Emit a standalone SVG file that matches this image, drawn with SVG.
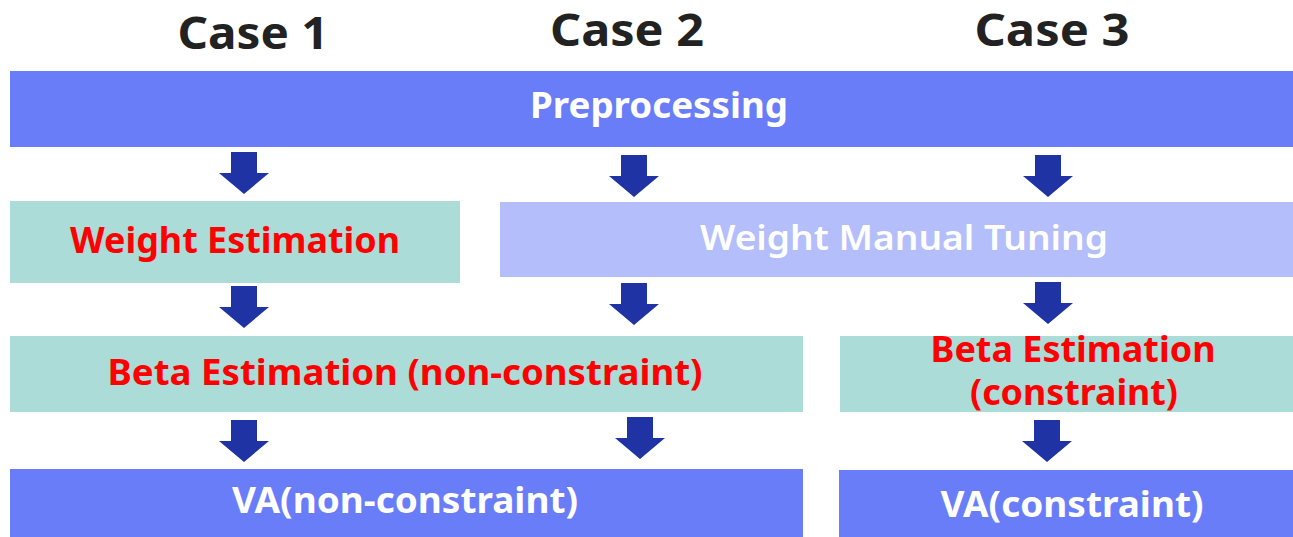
<svg xmlns="http://www.w3.org/2000/svg" width="1293" height="537" viewBox="0 0 1293 537">
<defs>
<style>
.t{font-family:"Noto Sans","Noto Sans CJK JP",sans-serif;font-weight:bold;text-anchor:middle}
.case{font-size:45px;fill:#222}
.lbl{font-size:35px}
.w{fill:#ffffff}
.r{fill:#ff0000}
.blue{fill:#6a7df9}
.light{fill:#b4befa}
.teal{fill:#acdcd8}
.arr{fill:#1f33a5}
</style>
<path id="ar" d="M-13,0 H13 V21 H25 L0,42 L-25,21 H-13 Z"/>
</defs>
<rect width="1293" height="537" fill="#ffffff"/>
<g id="titles">
<text class="t case" x="253" y="49" textLength="151" lengthAdjust="spacingAndGlyphs">Case 1</text>
<text class="t case" x="627" y="46" textLength="154" lengthAdjust="spacingAndGlyphs">Case 2</text>
<text class="t case" x="1052" y="46" textLength="155" lengthAdjust="spacingAndGlyphs">Case 3</text>
</g>
<g id="preprocessing">
<rect class="blue" x="10" y="71" width="1283" height="76"/>
<text class="t lbl w" x="659" y="118" textLength="258" lengthAdjust="spacingAndGlyphs">Preprocessing</text>
</g>
<g id="weight-estimation">
<rect class="teal" x="10" y="201" width="450" height="82"/>
<text class="t lbl r" x="235" y="253" textLength="330" lengthAdjust="spacingAndGlyphs">Weight Estimation</text>
</g>
<g id="weight-manual-tuning">
<rect class="light" x="500" y="202" width="793" height="75"/>
<text class="t lbl w" x="904" y="250" textLength="408" lengthAdjust="spacingAndGlyphs" style="font-weight:600">Weight Manual Tuning</text>
</g>
<g id="beta-nonconstraint">
<rect class="teal" x="10" y="336" width="793" height="76"/>
<text class="t lbl r" x="405" y="385" textLength="595" lengthAdjust="spacingAndGlyphs">Beta Estimation (non-constraint)</text>
</g>
<g id="beta-constraint">
<rect class="teal" x="840" y="336" width="453" height="76"/>
<text class="t lbl r" x="1073" y="362" textLength="285" lengthAdjust="spacingAndGlyphs">Beta Estimation</text>
<text class="t lbl r" x="1074" y="405" textLength="208" lengthAdjust="spacingAndGlyphs">(constraint)</text>
</g>
<g id="va-nonconstraint">
<rect class="blue" x="10" y="469" width="793" height="68"/>
<text class="t lbl w" x="405" y="513" textLength="346" lengthAdjust="spacingAndGlyphs">VA(non-constraint)</text>
</g>
<g id="va-constraint">
<rect class="blue" x="839" y="470" width="454" height="67"/>
<text class="t lbl w" x="1072" y="517" textLength="263" lengthAdjust="spacingAndGlyphs">VA(constraint)</text>
</g>
<g id="connectors" class="arr">
<use href="#ar" x="244" y="152"/>
<use href="#ar" x="634" y="155"/>
<use href="#ar" x="1048" y="155"/>
<use href="#ar" x="244" y="286"/>
<use href="#ar" x="634" y="283"/>
<use href="#ar" x="1048" y="282"/>
<use href="#ar" x="244" y="420"/>
<use href="#ar" x="640" y="417"/>
<use href="#ar" x="1047" y="420"/>
</g>
</svg>
